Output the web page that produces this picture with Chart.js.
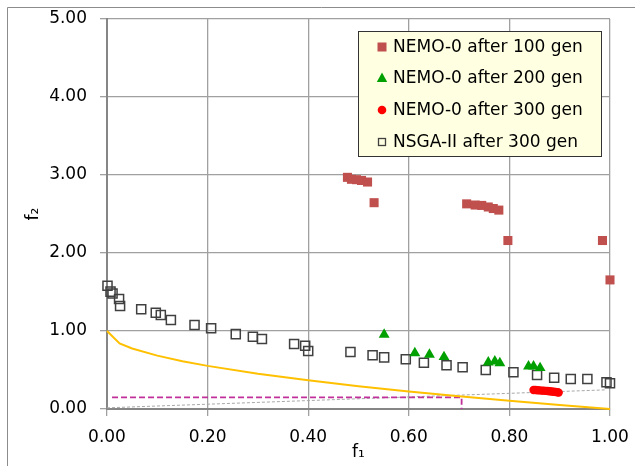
<!DOCTYPE html>
<html>
<head>
<meta charset="utf-8">
<script src="https://cdn.jsdelivr.net/npm/chart.js@4.4.1/dist/chart.umd.min.js"></script>
<style>
html,body{margin:0;padding:0;background:#fff;}
#wrap{width:635px;height:466px;position:relative;}
</style>
</head>
<body>
<div id="wrap"><canvas id="c" width="635" height="466"></canvas></div>
<script>
// ---- data ----
const xTicks = [0, 0.2, 0.4, 0.6, 0.8, 1.0];
const yTicks = [0, 1, 2, 3, 4, 5];
const legendLabels = ["NEMO-0 after 100 gen", "NEMO-0 after 200 gen", "NEMO-0 after 300 gen", "NSGA-II after 300 gen"];

const nemo100X = [0.478, 0.486, 0.496, 0.506, 0.518, 0.531, 0.715, 0.732, 0.745, 0.758, 0.768, 0.779, 0.797, 0.985, 1.0];
const nemo100Y = [2.97, 2.945, 2.94, 2.93, 2.91, 2.645, 2.63, 2.615, 2.61, 2.59, 2.57, 2.55, 2.16, 2.16, 1.655];

const nemo200X = [0.551, 0.612, 0.641, 0.670, 0.758, 0.771, 0.781, 0.838, 0.848, 0.861];
const nemo200Y = [0.954, 0.718, 0.697, 0.667, 0.598, 0.611, 0.59, 0.547, 0.547, 0.526];

const nemo300X = [0.848, 0.852, 0.856, 0.860, 0.864, 0.868, 0.872, 0.876, 0.880, 0.884, 0.888, 0.892, 0.896, 0.898];
const nemo300Y = [0.244, 0.243, 0.240, 0.239, 0.236, 0.235, 0.232, 0.231, 0.228, 0.225, 0.222, 0.218, 0.214, 0.210];

const nsgaX = [0.001, 0.007, 0.011, 0.024, 0.026, 0.068, 0.097, 0.107, 0.127, 0.174, 0.207, 0.256, 0.290, 0.308, 0.372, 0.394, 0.400, 0.484, 0.528, 0.551, 0.594, 0.630, 0.675, 0.707, 0.753, 0.808, 0.855, 0.889, 0.922, 0.955, 0.993, 1.0];
const nsgaY = [1.58, 1.505, 1.48, 1.41, 1.32, 1.28, 1.235, 1.205, 1.14, 1.077, 1.035, 0.96, 0.927, 0.897, 0.833, 0.812, 0.744, 0.731, 0.688, 0.662, 0.637, 0.594, 0.560, 0.534, 0.50, 0.47, 0.436, 0.40, 0.385, 0.385, 0.342, 0.33];

const frontX = [0, 0.025, 0.05, 0.1, 0.15, 0.2, 0.3, 0.4, 0.5, 0.6, 0.7, 0.8, 0.9, 1.0];
const frontY = [1.0, 0.84, 0.776, 0.684, 0.613, 0.553, 0.452, 0.368, 0.293, 0.225, 0.163, 0.106, 0.051, 0.0];

const refX = [0.01, 0.705, 0.705];
const refY = [0.15, 0.15, 0.0];

const diagX = [0.0, 0.99];
const diagY = [0.015, 0.245];

// ---- helpers ----
const pts = (xs, ys) => xs.map((x, i) => ({x: x, y: ys[i]}));

const colors = {
  brown: '#C0504D',
  green: '#00A000',
  red: '#FF0000',
  nsga: '#404040',
  front: '#FFC000',
  ref: '#C0309A',
  diag: '#A8A8A8',
  grid: '#A0A0A0',
  axis: '#868686'
};

Chart.defaults.font.family = "'DejaVu Sans', sans-serif";
Chart.defaults.font.size = 17;
Chart.defaults.color = '#000';

const AREA = { left: 107, right: 610, top: 19, bottom: 409 };

const fixLayoutPlugin = {
  id: 'fixLayout',
  afterLayout(chart) {
    const ca = chart.chartArea;
    ca.left = AREA.left; ca.right = AREA.right; ca.top = AREA.top; ca.bottom = AREA.bottom;
    ca.width = AREA.right - AREA.left; ca.height = AREA.bottom - AREA.top;
    const x = chart.scales.x;
    x.left = AREA.left; x.right = AREA.right; x.width = AREA.right - AREA.left;
    x.top = AREA.bottom; x.bottom = chart.height; x.height = chart.height - AREA.bottom;
    x.configure();
    const y = chart.scales.y;
    y.left = 0; y.right = AREA.left; y.width = AREA.left;
    y.top = AREA.top; y.bottom = AREA.bottom; y.height = AREA.bottom - AREA.top;
    y.configure();
  }
};

const framePlugin = {
  id: 'frame',
  beforeDraw(chart) {
    const ctx = chart.ctx;
    ctx.save();
    ctx.fillStyle = '#fff';
    ctx.fillRect(0, 0, chart.width, chart.height);
    ctx.strokeStyle = '#8C8C8C';
    ctx.lineWidth = 1;
    ctx.beginPath();
    ctx.moveTo(7.5, chart.height);
    ctx.lineTo(7.5, 7.5);
    ctx.lineTo(chart.width, 7.5);
    ctx.stroke();
    ctx.restore();
  }
};

const legendPlugin = {
  id: 'customLegend',
  afterDraw(chart) {
    const ctx = chart.ctx;
    ctx.save();
    const bx = 358.5, by = 31.5, bw = 243, bh = 125;
    ctx.fillStyle = '#FFFFE1';
    ctx.fillRect(bx, by, bw, bh);
    ctx.strokeStyle = '#333';
    ctx.lineWidth = 1;
    ctx.strokeRect(bx, by, bw, bh);
    const rows = [47, 78, 110, 142];
    const mx = 382, tx = 393;
    ctx.fillStyle = colors.brown;
    ctx.fillRect(mx - 4.5, rows[0] - 4.5, 9, 9);
    ctx.fillStyle = colors.green;
    ctx.beginPath();
    ctx.moveTo(mx, rows[1] - 5.5);
    ctx.lineTo(mx + 5.2, rows[1] + 4);
    ctx.lineTo(mx - 5.2, rows[1] + 4);
    ctx.closePath();
    ctx.fill();
    ctx.fillStyle = colors.red;
    ctx.beginPath();
    ctx.arc(mx, rows[2], 4.3, 0, Math.PI * 2);
    ctx.fill();
    ctx.strokeStyle = colors.nsga;
    ctx.lineWidth = 1.3;
    ctx.strokeRect(mx - 3.5, rows[3] - 3.5, 7, 7);
    ctx.fillStyle = '#000';
    ctx.font = "17px 'DejaVu Sans', sans-serif";
    ctx.textBaseline = 'middle';
    ctx.textAlign = 'left';
    legendLabels.forEach((t, i) => ctx.fillText(t, tx, rows[i] + 1));
    ctx.restore();
  }
};

new Chart(document.getElementById('c'), {
  type: 'scatter',
  data: {
    datasets: [
      {
        label: legendLabels[0], data: pts(nemo100X, nemo100Y),
        pointStyle: 'rect', pointRadius: 6.4, backgroundColor: colors.brown, borderColor: colors.brown, borderWidth: 0, clip: false
      },
      {
        label: legendLabels[1], data: pts(nemo200X, nemo200Y),
        pointStyle: 'triangle', pointRadius: 6.3, backgroundColor: colors.green, borderColor: colors.green, borderWidth: 0, clip: false
      },
      {
        label: legendLabels[2], data: pts(nemo300X, nemo300Y),
        pointStyle: 'circle', pointRadius: 4.2, backgroundColor: colors.red, borderColor: colors.red, borderWidth: 0, clip: false
      },
      {
        label: legendLabels[3], data: pts(nsgaX, nsgaY),
        pointStyle: 'rect', pointRadius: 6.4, backgroundColor: 'rgba(0,0,0,0)', borderColor: colors.nsga, borderWidth: 1.5, clip: false
      },
      {
        label: 'front', data: pts(frontX, frontY), showLine: true, pointRadius: 0,
        borderColor: colors.front, borderWidth: 2, tension: 0, clip: false
      },
      {
        label: 'ref', data: pts(refX, refY), showLine: true, pointRadius: 0,
        borderColor: colors.ref, borderWidth: 1.8, borderDash: [6, 3], tension: 0
      },
      {
        label: 'diag', data: pts(diagX, diagY), showLine: true, pointRadius: 0,
        borderColor: colors.diag, borderWidth: 1, borderDash: [3, 2], tension: 0
      }
    ]
  },
  options: {
    responsive: false,
    animation: false,
    events: [],
    layout: { padding: { left: 0, right: 25, top: 19, bottom: 0 }, autoPadding: false },
    plugins: { legend: { display: false }, tooltip: { enabled: false } },
    scales: {
      x: {
        type: 'linear', min: 0, max: 1,
        afterBuildTicks(scale) { scale.ticks = xTicks.map(v => ({value: v})); },
        afterFit(scale) { scale.height = 57; },
        ticks: { callback: v => v.toFixed(2), padding: 11, maxRotation: 0, autoSkip: false },
        grid: { color: colors.grid, lineWidth: 1.3, tickLength: 7 },
        border: { color: colors.axis, width: 2 },
        title: { display: true, text: 'f₁', padding: { top: 0, bottom: 3 }, font: { size: 17 } }
      },
      y: {
        type: 'linear', min: 0, max: 5,
        afterBuildTicks(scale) { scale.ticks = yTicks.map(v => ({value: v})); },
        afterFit(scale) { scale.width = 107; },
        ticks: { callback: v => v.toFixed(2), padding: 13 },
        grid: { color: colors.grid, lineWidth: 1.3, tickLength: 7 },
        border: { color: colors.axis, width: 2 },
        title: { display: true, text: 'f₂', padding: { top: 23, bottom: 0 }, font: { size: 17 } }
      }
    }
  },
  plugins: [fixLayoutPlugin, framePlugin, legendPlugin]
});
</script>
</body>
</html>
